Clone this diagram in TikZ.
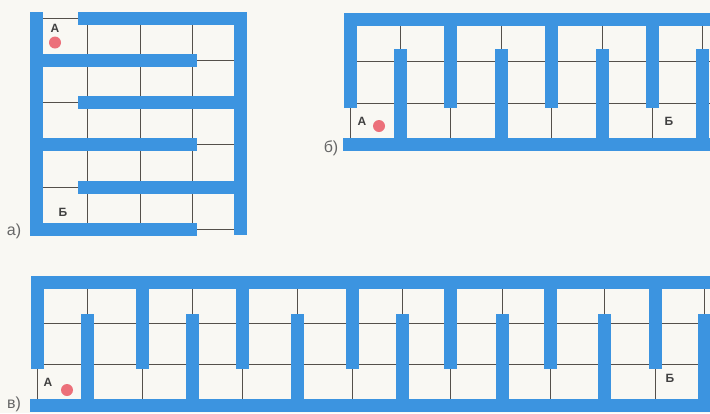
\documentclass[tikz,border=0pt]{standalone}
\usepackage{fontspec}
\setmainfont{Liberation Sans}
\usepackage{xcolor}
\usepackage{tikz}
\usetikzlibrary{positioning}
\definecolor{mazeblue}{RGB}{60,148,224}
\definecolor{gridgray}{RGB}{85,80,75}
\definecolor{dotred}{RGB}{236,112,122}
\definecolor{paper}{RGB}{249,248,243}
\tikzset{
  bar/.style={
    draw=mazeblue,
    line width=13pt,
    line join=miter
  },
  gridline/.style={
    draw=gridgray,
    line width=1pt
  },
  point/.style={
    circle,
    fill=dotred,
    inner sep=0pt,
    minimum size=12pt
  },
  endlabel/.style={
    font=\bfseries\fontsize{12}{12}\selectfont,
    text=black!75,
    inner sep=0pt
  },
  panel/.style={
    font=\fontsize{16}{16}\selectfont,
    text=black!60,
    inner sep=0pt
  }
}

\begin{document}
\begin{tikzpicture}[x=1pt,y=-1pt]
  \fill[paper] (0,0) rectangle (710,413);
  \useasboundingbox (0,0) rectangle (710,413);

  % a) square maze
  \foreach \x in {36,87,140,192,240}
    \draw[gridline] (\x,18) -- (\x,229);
  \foreach \y in {18,60,102,144,187,229}
    \draw[gridline] (36,\y) -- (240,\y);
  \draw[bar] (36,12) -- (36,229) -- (197,229);
  \draw[bar] (78,18) -- (240,18) -- (240,235);
  \foreach \y in {60,144}
    \draw[bar] (36,\y) -- (197,\y);
  \foreach \y in {102,187}
    \draw[bar] (78,\y) -- (240,\y);
  \node[endlabel] (startA) at (55,28) {А};
  \node[point,below=4pt of startA] (dotA) {};
  \node[endlabel] (finishA) at (63,212) {Б};
  \node[panel] (capA) at (14,231) {а)};

  % b) comb, three rows
  \foreach \i in {0,...,7}
    \draw[gridline] ({350+50.4*\i},19) -- ({350+50.4*\i},144);
  \foreach \y in {19,61,103,144}
    \draw[gridline] (350,\y) -- (712,\y);
  \draw[bar] (350,108) -- (350,19) -- (712,19);
  \foreach \i in {2,4,6}
    \draw[bar] ({350+50.4*\i},19) -- ({350+50.4*\i},108);
  \draw[bar] (343,144) -- (712,144);
  \foreach \i in {1,3,5,7}
    \draw[bar] ({350+50.4*\i},144) -- ({350+50.4*\i},49);
  \node[endlabel] (startB) at (362,121) {А};
  \node[point] (dotB) at (379,126) {};
  \node[endlabel] (finishB) at (669,121) {Б};
  \node[panel] (capB) at (331,148) {б)};

  % c) long comb
  \foreach \x in {37,87,142,192,242,297,352,402,450,502,550,604,655,704}
    \draw[gridline] (\x,282) -- (\x,405);
  \foreach \y in {282,323,364,405}
    \draw[gridline] (37,\y) -- (712,\y);
  \draw[bar] (37,369) -- (37,282) -- (712,282);
  \foreach \x in {142,242,352,450,550,655}
    \draw[bar] (\x,282) -- (\x,369);
  \draw[bar] (30,405) -- (712,405);
  \foreach \x in {87,192,297,402,502,604,704}
    \draw[bar] (\x,405) -- (\x,314);
  \node[endlabel] (startC) at (48,382) {А};
  \node[point] (dotC) at (67,390) {};
  \node[endlabel] (finishC) at (670,378) {Б};
  \node[panel] (capC) at (14,404) {в)};
\end{tikzpicture}
\end{document}
